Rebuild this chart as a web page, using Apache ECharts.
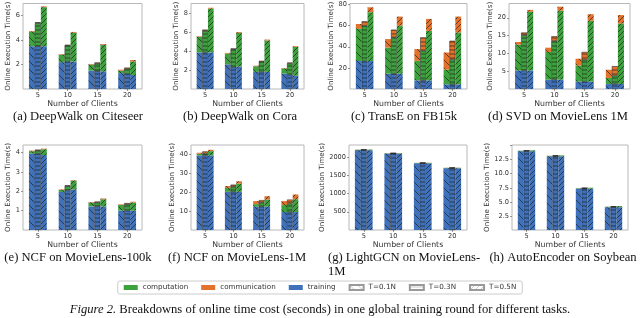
<!DOCTYPE html>
<html><head><meta charset="utf-8">
<script src="https://cdn.jsdelivr.net/npm/echarts@6/dist/echarts.min.js"></script>
<style>html,body{margin:0;padding:0;background:#fff}#c{width:640px;height:318px}</style>
</head><body><div id="c"></div>
<script>
const clients = ['5', '10', '15', '20'];
const tLevels = ['T=0.1N', 'T=0.3N', 'T=0.5N'];
const components = ['computation', 'communication', 'training'];

// (a) DeepWalk on Citeseer  — rows: T=0.1N, T=0.3N, T=0.5N
const aTraining = [[3.5, 2.2, 1.5, 1.3], [3.5, 2.25, 1.45, 1.25], [3.5, 2.25, 1.45, 1.15]];
const aComputation = [[1.2, 0.6, 0.5, 0.2], [1.9, 1.3, 0.62, 0.4], [3.2, 2.35, 2.15, 1.1]];
const aCommunication = [[0.05, 0.05, 0.05, 0.08], [0.06, 0.07, 0.1, 0.1], [0.06, 0.07, 0.07, 0.12]];
const aTicks = [2, 4, 6];

// (b) DeepWalk on Cora
const bTraining = [[3.85, 2.6, 1.8, 1.63], [3.85, 2.3, 1.8, 1.5], [3.85, 2.35, 1.8, 1.4]];
const bComputation = [[1.65, 1.13, 0.6, 0.53], [2.25, 1.88, 1.05, 1.18], [4.62, 3.57, 3.3, 3.02]];
const bCommunication = [[0.06, 0.07, 0.05, 0.05], [0.15, 0.08, 0.12, 0.1], [0.08, 0.08, 0.1, 0.08]];
const bTicks = [2, 4, 6, 8];

// (c) TransE on FB15k
const cTraining = [[26.5, 14.5, 8.2, 4.4], [26.5, 14.5, 8.2, 4.4], [26.5, 14.5, 8.2, 4.4]];
const cComputation = [[30.5, 24.8, 18.5, 14], [33.5, 34.5, 28, 23.6], [46.2, 45.5, 47, 49.2]];
const cCommunication = [[4.6, 8, 11.1, 16.2], [4.1, 7.2, 12.7, 17.7], [4.7, 8.6, 11.2, 15]];
const cTicks = [20, 40, 60, 80];

// (d) SVD on MovieLens 1M
const dTraining = [[5.2, 2.64, 2.08, 1.42], [5.2, 2.64, 2.08, 1.42], [5.2, 2.64, 2.08, 1.42]];
const dComputation = [[7.25, 7.76, 4.52, 1.68], [9.9, 10.86, 6.12, 2.35], [16.5, 19.36, 17.07, 16.98]];
const dCommunication = [[0.75, 1.2, 1.9, 2.3], [0.75, 1.3, 2.2, 2.63], [0.5, 1.1, 1.85, 2.35]];
const dTicks = [5, 10, 15, 20];

// (e) NCF on MovieLens-100k
const eTraining = [[3.95, 1.97, 1.22, 1.0], [3.95, 2.05, 1.22, 1.0], [3.88, 2.1, 1.22, 1.0]];
const eComputation = [[0.13, 0.1, 0.2, 0.3], [0.15, 0.22, 0.2, 0.33], [0.3, 0.45, 0.37, 0.42]];
const eCommunication = [[0.03, 0.03, 0.03, 0.03], [0.06, 0.04, 0.05, 0.06], [0.03, 0.03, 0.04, 0.04]];
const eTicks = [1, 2, 3, 4];

// (f) NCF on MovieLens-1M
const fTraining = [[39.5, 20.2, 12.3, 9.5], [39.5, 20.2, 12.3, 9.5], [39.5, 20.2, 12.3, 9.5]];
const fComputation = [[0.85, 2.1, 1.4, 3.7], [1.0, 2.6, 2.1, 4.5], [2.25, 4.4, 3.8, 6.8]];
const fCommunication = [[0.55, 1.0, 1.6, 2.1], [1.1, 1.2, 1.4, 2.1], [0.7, 1.2, 1.8, 2.5]];
const fTicks = [10, 20, 30, 40];

// (g) LightGCN on MovieLens-1M
const gTraining = [[2190, 2095, 1830, 1695], [2190, 2095, 1830, 1695], [2188, 2093, 1828, 1693]];
const gComputation = [[10, 8, 8, 8], [10, 9, 9, 9], [15, 12, 12, 12]];
const gCommunication = [[3, 3, 3, 3], [3, 3, 3, 3], [3, 3, 3, 3]];
const gTicks = [500, 1000, 1500, 2000];

// (h) AutoEncoder on Soybean
const hTraining = [[14.0, 13.1, 7.35, 4.05], [14.0, 13.1, 7.35, 4.05], [14.0, 13.1, 7.35, 4.05]];
const hComputation = [[0.08, 0.08, 0.08, 0.08], [0.1, 0.1, 0.1, 0.1], [0.15, 0.15, 0.15, 0.2]];
const hCommunication = [[0.01, 0.01, 0.01, 0.01], [0.01, 0.01, 0.01, 0.01], [0.01, 0.01, 0.01, 0.01]];
const hTicks = [2.5, 5.0, 7.5, 10.0, 12.5];

const captions = ['(a) DeepWalk on Citeseer', '(b) DeepWalk on Cora', '(c) TransE on FB15k', '(d) SVD on MovieLens 1M',
  '(e) NCF on MovieLens-100k', '(f) NCF on MovieLens-1M', '(g) LightGCN on MovieLens-', '(h) AutoEncoder on Soybean'];
const yAxisTitle = 'Online Execution Time(s)';
const xAxisTitle = 'Number of Clients';
const figureCaption = 'Breakdowns of online time cost (seconds) in one global training round for different tasks.';

const panelData = [
  [aTraining, aComputation, aCommunication, aTicks],
  [bTraining, bComputation, bCommunication, bTicks],
  [cTraining, cComputation, cCommunication, cTicks],
  [dTraining, dComputation, dCommunication, dTicks],
  [eTraining, eComputation, eCommunication, eTicks],
  [fTraining, fComputation, fCommunication, fTicks],
  [gTraining, gComputation, gCommunication, gTicks],
  [hTraining, hComputation, hCommunication, hTicks]
];

// layout (positions / axis extents)
const layout = [
  {left: 23, top: 3.5, w: 119, h: 85.5, max: 7, gap: 7, capX: 78, dec: 0},
  {left: 191, top: 3.5, w: 113, h: 85.5, max: 9, gap: 9, capX: 240, dec: 0},
  {left: 350, top: 3.5, w: 117, h: 85.5, max: 81, gap: 11, capX: 404, dec: 0},
  {left: 509, top: 3.5, w: 121, h: 85.5, max: 24, gap: 13, capX: 558, dec: 0},
  {left: 23, top: 145, w: 119, h: 85, max: 4.4, gap: 8, capX: 78, dec: 0},
  {left: 191, top: 145, w: 113, h: 85, max: 45, gap: 10, capX: 237, dec: 0},
  {left: 349, top: 145, w: 118, h: 85, max: 2330, gap: 19, capX: 328, dec: 0, leftAlign: true},
  {left: 512, top: 145, w: 116, h: 85, max: 15.1, gap: 12, capX: 563, dec: 1}
];

const COLORS = {training: '#3f72bb', computation: '#3da23d', communication: '#e2722c'};
const hatchKinds = ['back', 'horiz', 'fwd'];

function hatch(bg, kind, lineColor, lw) {
  const s = kind === 'back' ? 8 : (kind === 'fwd' ? 5 : 4);
  const c = document.createElement('canvas');
  c.width = s; c.height = s;
  const g = c.getContext('2d');
  g.fillStyle = bg; g.fillRect(0, 0, s, s);
  g.strokeStyle = lineColor; g.lineWidth = lw;
  g.beginPath();
  if (kind === 'horiz') { g.moveTo(0, s / 2); g.lineTo(s, s / 2); }
  else {
    for (const k of [-s, 0, s]) {
      if (kind === 'back') { g.moveTo(k, 0); g.lineTo(k + s, s); }
      else { g.moveTo(k, s); g.lineTo(k + s, 0); }
    }
  }
  g.stroke();
  return {image: c, repeat: 'repeat'};
}

const grids = [], xAxes = [], yAxes = [], series = [], graphics = [];
const AX_FONT = 'DejaVu Sans';
const CAP_FONT = 12.6;

layout.forEach((L, p) => {
  const [tr, co, cm, ticks] = panelData[p];
  grids.push({left: L.left, top: L.top, width: L.w, height: L.h, show: true, borderColor: '#b8b8b8', borderWidth: 1,
    backgroundColor: '#fff', containLabel: false, outerBoundsMode: 'none'});
  xAxes.push({type: 'category', gridIndex: p, data: clients,
    axisLine: {show: false}, axisTick: {show: true, alignWithLabel: true, length: 2, lineStyle: {color: '#555', width: 0.6}},
    axisLabel: {fontSize: 6.6, color: '#333', margin: 3, fontFamily: AX_FONT},
    name: xAxisTitle, nameLocation: 'middle', nameGap: 8, nameTextStyle: {fontSize: 7.8, color: '#333', fontFamily: AX_FONT}});
  const interval = ticks[1] - ticks[0];
  yAxes.push({type: 'value', gridIndex: p, min: 0, max: L.max, interval: interval,
    axisLine: {show: false}, splitLine: {show: false},
    axisTick: {show: true, length: 2, lineStyle: {color: '#555', width: 0.6}},
    axisLabel: {fontSize: 6.6, color: '#333', margin: 3, fontFamily: AX_FONT, showMinLabel: false, showMaxLabel: false,
      formatter: v => ticks.some(t => Math.abs(t - v) < 1e-9) ? v.toFixed(L.dec) : ''},
    name: yAxisTitle, nameLocation: 'middle', nameGap: L.gap, nameRotate: 90,
    nameTextStyle: {fontSize: 7.1, color: '#333', fontFamily: AX_FONT}});
  for (let t = 0; t < 3; t++) {
    const parts = [['training', tr[t]], ['computation', co[t]], ['communication', cm[t]]];
    parts.forEach(([comp, vals]) => {
      series.push({type: 'bar', name: 'p' + p + '-' + tLevels[t] + '-' + comp, xAxisIndex: p, yAxisIndex: p,
        stack: 'p' + p + 't' + t, data: vals, barGap: '0%', barCategoryGap: '40%',
        silent: true, animation: false,
        itemStyle: {color: hatch(COLORS[comp], hatchKinds[t], '#1a1a1a', 0.65),
          borderColor: t === 1 ? '#1a1a1a' : COLORS[comp], borderWidth: t === 1 ? 0.5 : 0}});
    });
  }
  graphics.push({type: 'text', x: L.capX, y: L.top + (p < 4 ? 113.5 : 113),
    style: {text: captions[p], fontSize: CAP_FONT, fontFamily: 'Liberation Serif', fill: '#111',
      align: L.leftAlign ? 'left' : 'center', verticalAlign: 'middle'}});
});
// hidden grid for legend proxy series
grids.push({left: -50, top: -50, width: 5, height: 5, show: false, outerBoundsMode: 'none'});
xAxes.push({type: 'category', gridIndex: 8, data: ['x'], show: false});
yAxes.push({type: 'value', gridIndex: 8, show: false});

// wrapped tail of (g) caption
graphics.push({type: 'text', x: 328, y: 272, style: {text: '1M', fontSize: CAP_FONT, fontFamily: 'Liberation Serif', fill: '#111', align: 'left', verticalAlign: 'middle'}});
graphics.push({type: 'text', x: 320, y: 310, style: {text: '{i|Figure 2.} ' + figureCaption, fontSize: CAP_FONT, fontFamily: 'Liberation Serif', fill: '#111',
  align: 'center', verticalAlign: 'middle', rich: {i: {fontStyle: 'italic', fontSize: CAP_FONT, fontFamily: 'Liberation Serif', fill: '#111'}}}});

// legend proxy series
components.forEach(comp => {
  series.push({type: 'bar', name: comp, xAxisIndex: 8, yAxisIndex: 8, data: [], itemStyle: {color: COLORS[comp]}});
});
tLevels.forEach((tn, t) => {
  series.push({type: 'bar', name: tn, xAxisIndex: 8, yAxisIndex: 8, data: [],
    itemStyle: {color: hatch('#ffffff', hatchKinds[t], '#aaa', 0.6), borderColor: '#999', borderWidth: 0.6}});
});

const chart = echarts.init(document.getElementById('c'), null, {renderer: 'canvas'});
chart.setOption({
  animation: false,
  backgroundColor: '#fff',
  grid: grids, xAxis: xAxes, yAxis: yAxes, series: series, graphic: graphics,
  legend: {data: components.concat(tLevels), left: 'center', top: 281, orient: 'horizontal',
    itemWidth: 14, itemHeight: 5, itemGap: 13, icon: 'rect',
    borderColor: '#cccccc', borderWidth: 1, borderRadius: 2, padding: [3, 6],
    textStyle: {fontSize: 7.2, color: '#333', fontFamily: AX_FONT}, selectedMode: false}
});
</script></body></html>
